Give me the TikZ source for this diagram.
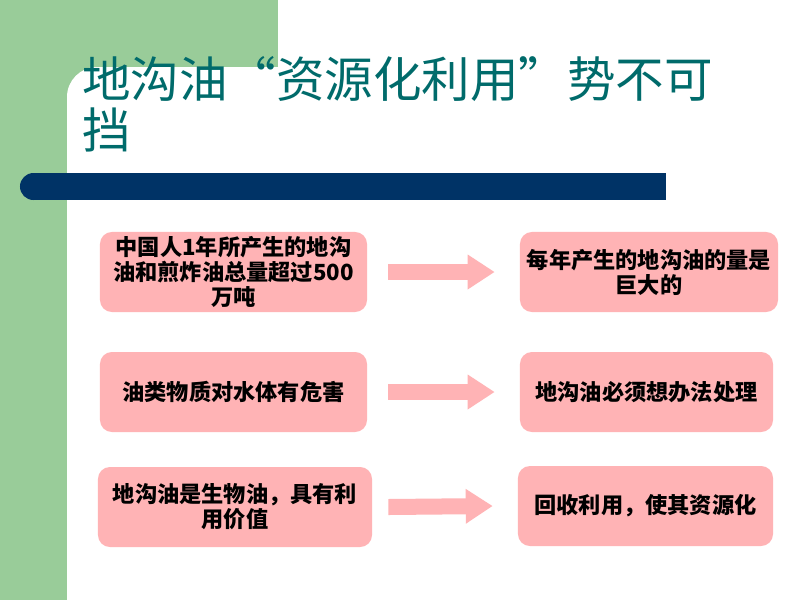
\documentclass[tikz,border=0pt]{standalone}
\usepackage{fontspec}
\setmainfont{Noto Sans CJK SC}
\usepackage{tikz}
\usetikzlibrary{arrows.meta,positioning}

\definecolor{bandgreen}{RGB}{153,204,153}
\definecolor{barnavy}{RGB}{0,51,102}
\definecolor{titleteal}{RGB}{0,107,107}
\definecolor{boxpink}{RGB}{255,179,181}

\begin{document}
\begin{tikzpicture}[x=0.025cm,y=-0.025cm,
    fact/.style={fill=boxpink, rounded corners=0.3cm, text centered, text=black, align=center,
                 minimum height=2cm, inner sep=2pt, font=\bfseries\fontsize{15.8}{17.8}\selectfont},
    push/.style={draw=boxpink, line width=0.4cm, -{Triangle[length=0.675cm,width=0.825cm]}},
    title/.style={text=titleteal, align=left, anchor=north west, inner sep=0pt,
                  font=\fontsize{34.5}{36.3}\selectfont}]
    \useasboundingbox (0,0) rectangle (800,600);
    \fill[white] (0,0) rectangle (800,600);

    % background bands
    \fill[bandgreen] (0,0) rectangle (278,600);
    \fill[white, rounded corners=0.75cm] (67,67) rectangle (840,640);
    \fill[barnavy] (33.5,173) rectangle (666,200);
    \fill[barnavy] (33.5,186.5) circle[radius=0.3375cm];

    \node[title] (t) at (82,56) {地沟油“资源化利用”势不可\\挡};

    \node[fact, minimum width=6.675cm] (f1) at (233.5,272) {中国人1年所产生的地沟\\油和煎炸油总量超过500\\万吨};
    \node[fact, minimum width=6.675cm] (f2) at (233.5,392) {油类物质对水体有危害};
    \node[fact, minimum width=6.85cm]  (f3) at (235,507)   {地沟油是生物油，具有利\\用价值};

    \node[fact, minimum width=6.45cm]  (r1) at (649,272)   {每年产生的地沟油的量是\\巨大的};
    \node[fact, minimum width=6.325cm] (r2) at (646.5,392) {地沟油必须想办法处理};
    \node[fact, minimum width=6.375cm] (r3) at (645.5,506) {回收利用，使其资源化};

    \draw[push] ([xshift=0.525cm]f1.east) -- ([xshift=-0.625cm]r1.west);
    \draw[push] ([xshift=0.525cm]f2.east) -- ([xshift=-0.625cm]r2.west);
    \draw[push] ([xshift=0.4cm]f3.east) -- ([xshift=-0.625cm]r3.west);
\end{tikzpicture}
\end{document}
